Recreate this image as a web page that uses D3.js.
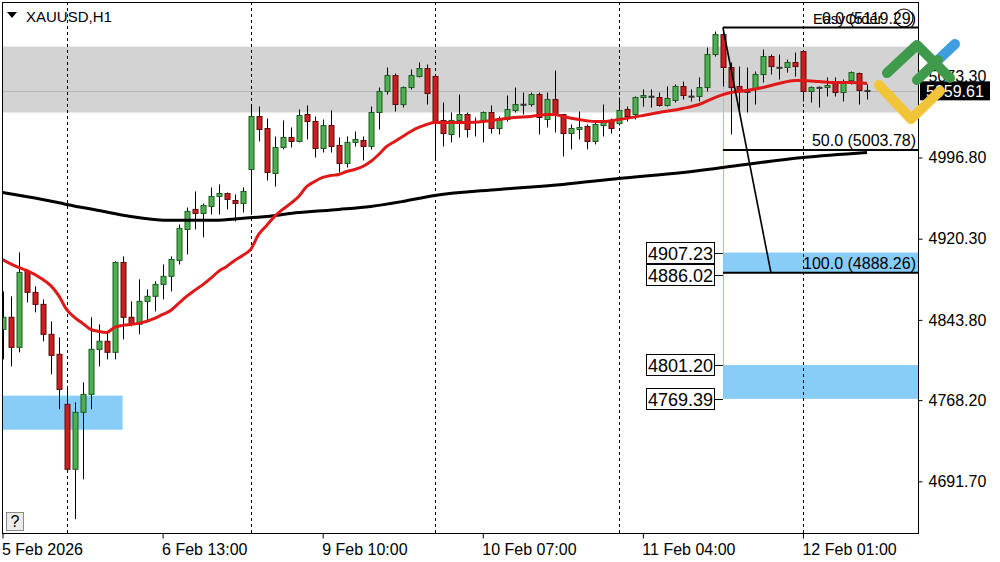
<!DOCTYPE html>
<html><head><meta charset="utf-8">
<script src="https://cdn.jsdelivr.net/npm/d3@7"></script>
<style>body{margin:0;background:#fff}svg{display:block;font-family:"Liberation Sans",Arial,sans-serif}</style>
</head><body><svg id="c" width="1000" height="562"></svg>
<script>
// ---- data (XAUUSD H1, bars 5 Feb 16:00 .. 12 Feb 09:00) ----
const openP=[4834.9,4846.2,4817.9,4889.5,4869.7,4858.4,4830.2,4811.3,4764.2,4703.0,4756.7,4773.6,4816.0,4823.6,4813.2,4897.9,4846.2,4839.6,4861.2,4866.0,4877.2,4884.8,4899.8,4929.0,4947.9,4944.1,4950.7,4960.1,4962.9,4956.3,4953.5,4985.5,5035.4,5024.1,4981.7,5006.2,5015.7,5011.9,5037.3,5030.7,5005.3,5026.9,5008.1,4991.2,5011.0,5012.8,5007.2,5039.2,5059.0,5074.0,5046.7,5062.7,5073.1,5080.6,5073.1,5031.7,5018.5,5031.7,5037.3,5030.7,5030.7,5039.2,5024.1,5032.6,5041.1,5046.3,5046.7,5056.1,5032.6,5051.4,5037.3,5019.4,5023.2,5026.0,5011.9,5026.9,5031.7,5028.8,5042.0,5037.3,5053.3,5054.5,5053.3,5045.8,5050.5,5063.7,5054.3,5054.3,5062.7,5093.8,5112.6,5081.6,5063.7,5058.5,5060.9,5075.0,5091.9,5081.8,5081.6,5086.3,5096.6,5059.0,5062.9,5062.7,5068.4,5058.0,5069.3,5075.9,5059.9];
const highP=[4870.6,4866.0,4907.4,4891.3,4875.4,4863.1,4842.4,4827.3,4781.2,4766.1,4785.0,4846.2,4839.6,4832.0,4898.9,4903.6,4861.2,4882.0,4872.5,4880.1,4896.0,4903.6,4933.7,4949.7,4964.8,4953.5,4968.6,4971.4,4963.8,4962.0,4968.6,5046.7,5044.8,5033.5,5016.6,5031.7,5025.1,5042.0,5045.8,5035.4,5032.6,5041.1,5015.7,5016.6,5021.3,5016.6,5044.8,5062.7,5081.6,5075.9,5063.7,5079.7,5086.3,5084.4,5075.0,5048.6,5039.2,5056.1,5039.2,5034.5,5040.1,5045.8,5035.4,5055.2,5062.7,5058.0,5058.0,5058.0,5058.0,5078.7,5037.8,5027.9,5040.1,5027.9,5029.8,5046.7,5033.5,5053.3,5044.8,5054.3,5060.9,5060.9,5058.0,5063.7,5065.6,5068.4,5060.9,5072.2,5100.4,5115.5,5119.3,5086.3,5082.5,5081.6,5077.8,5098.5,5093.8,5093.8,5089.1,5095.7,5096.6,5063.7,5063.7,5072.2,5072.2,5070.3,5077.8,5076.8,5065.6];
const lowP=[4806.6,4800.0,4813.2,4860.3,4850.9,4823.6,4792.5,4759.5,4701.1,4656.0,4693.6,4759.5,4800.0,4806.6,4806.6,4825.4,4837.7,4830.2,4841.4,4851.8,4863.1,4870.6,4896.0,4905.5,4929.0,4921.5,4943.1,4943.1,4947.9,4936.5,4945.0,4943.1,5011.9,4975.1,4969.5,5004.4,5006.2,5011.0,5013.8,4996.8,5001.5,5001.5,4982.7,4987.4,5007.2,4994.0,5004.4,5023.2,5056.1,5040.1,5043.9,5060.9,5072.2,5046.7,4994.9,5007.2,5011.0,5015.7,5015.7,5016.6,5011.0,5019.4,5018.5,5030.7,5039.2,5037.3,5044.8,5018.5,5025.1,5020.4,4997.8,5004.4,5013.8,5004.4,5009.1,5016.6,5019.4,5026.9,5030.7,5032.6,5044.8,5043.9,5044.8,5044.8,5048.6,5051.4,5049.6,5049.6,5059.0,5091.9,5063.7,5018.5,5039.2,5039.2,5046.7,5067.4,5075.0,5070.3,5076.8,5073.1,5049.6,5048.6,5043.9,5054.3,5054.3,5049.6,5065.6,5046.7,5051.4];
const closeP=[4846.2,4817.9,4888.5,4869.7,4858.4,4830.2,4810.4,4778.3,4703.0,4756.7,4773.6,4816.0,4823.6,4813.2,4897.9,4846.2,4839.6,4861.2,4866.0,4877.2,4884.8,4900.7,4930.0,4946.0,4944.1,4951.6,4960.1,4962.9,4957.3,4953.5,4964.8,5035.4,5023.2,4982.7,5006.2,5015.7,5011.9,5036.4,5030.7,5005.3,5026.9,5007.2,4991.2,5011.0,5013.8,5007.2,5039.2,5059.0,5074.0,5046.7,5062.7,5074.0,5080.6,5057.1,5029.8,5019.4,5031.7,5037.3,5023.2,5029.8,5039.2,5024.1,5033.5,5042.0,5046.7,5047.0,5056.1,5034.5,5051.4,5037.3,5019.4,5024.1,5025.1,5011.9,5027.9,5029.8,5024.1,5041.1,5035.4,5053.3,5055.2,5054.0,5045.8,5052.4,5063.7,5055.2,5054.6,5062.7,5093.8,5112.6,5081.6,5062.7,5059.0,5059.0,5075.0,5091.9,5082.5,5081.4,5086.3,5082.5,5059.0,5062.7,5062.5,5064.6,5058.0,5068.4,5076.8,5059.9,5059.61];

const redMaIdx=[0,2,3,5,6,7,8,9,10,11,12,13,14,15,17,19,20,21,22,23,24,25,26,27,28,29,30,31,32,33,34,35,36,37,38,39,40,41,42,43,44,45,46,47,48,49,50,51,52,53,54,56,58,60,62,64,66,68,69,70,72,74,75,77,80,82,85,87,89,90,91,93,95,97,99,100,102,104,106,108];
const redMaVal=[4900.7,4893.2,4890.4,4882.0,4876.3,4866.9,4853.7,4846.2,4840.5,4834.9,4833.0,4832.0,4836.7,4838.6,4840.5,4845.2,4848.9,4852.7,4859.3,4866.0,4871.6,4876.8,4882.9,4889.5,4894.2,4899.8,4904.5,4910.2,4924.3,4932.8,4941.3,4947.9,4953.5,4960.1,4969.5,4974.2,4978.0,4979.8,4980.8,4983.6,4985.5,4988.3,4993.0,4999.6,5007.2,5011.9,5016.6,5021.3,5025.1,5027.9,5029.8,5029.8,5029.8,5030.7,5032.6,5034.5,5035.4,5037.3,5037.3,5035.4,5032.6,5030.7,5030.7,5032.6,5036.4,5039.2,5043.0,5046.7,5053.3,5056.1,5058.0,5059.9,5062.7,5066.5,5069.3,5069.3,5068.4,5067.4,5067.4,5066.5];
const blackMaIdx=[0,5,8,12,16,21,26,29,33,37,42,46,50,54,62,70,77,85,90,100,108];
const blackMaVal=[4963.9,4957.3,4952.6,4946.9,4941.3,4937.6,4937.6,4938.9,4941.3,4945.0,4947.9,4950.7,4955.4,4961.0,4966.7,4971.4,4977.0,4982.7,4987.4,4996.8,5001.5];

const priceTicks=[5073.30,4996.80,4920.30,4843.80,4768.20,4691.70];
const timeTickIdx=[0,20,40,60,80,100];
const timeTickLabels=["5 Feb 2026","6 Feb 13:00","9 Feb 10:00","10 Feb 07:00","11 Feb 04:00","12 Feb 01:00"];
const daySepIdx=[8,31,54,77,100];

const grayBand=[5101.3,5039.2];
const bidPrice=5059.61;
const leftZone={from:0,to:15,top:4772.4,bottom:4740.3};
const rightZones=[{top:4907.23,bottom:4888.26,labels:[4907.23,4886.02]},{top:4801.20,bottom:4769.39,labels:[4801.20,4769.39]}];
const fibStart={idx:90,price:5119.29};
const fibEnd={idx:96,price:4888.26};
const fibLevels=[{lvl:"0.0",price:5119.29},{lvl:"50.0",price:5003.78},{lvl:"100.0",price:4888.26}];

// ---- layout ----
const L=2,R=918,T=2,B=533;
const svg=d3.select("#c");
const x=d3.scaleLinear().domain([0,108]).range([2.5,867]);
const y=d3.scaleLinear().domain([4691.7,5119.29]).range([481.3,27.5]);

svg.append("defs").append("clipPath").attr("id","pc").append("rect").attr("x",L).attr("y",T).attr("width",R-L).attr("height",B-T);
const g=svg.append("g").attr("clip-path","url(#pc)");

// gray band
g.append("rect").attr("x",L).attr("width",R-L).attr("y",y(grayBand[0])).attr("height",y(grayBand[1])-y(grayBand[0])).attr("fill","#d3d3d3");
// bid line
g.append("line").attr("x1",L).attr("x2",R).attr("y1",Math.round(y(bidPrice))+0.5).attr("y2",Math.round(y(bidPrice))+0.5).attr("stroke","#b4b4b4").attr("stroke-width",1);

// blue zones
const zc="#87cdf8";
g.append("rect").attr("x",L).attr("width",x(leftZone.to)-L).attr("y",y(leftZone.top)).attr("height",y(leftZone.bottom)-y(leftZone.top)).attr("fill",zc);
rightZones.forEach(z=>{
  g.append("rect").attr("x",x(fibStart.idx)).attr("width",R-x(fibStart.idx)).attr("y",y(z.top)).attr("height",y(z.bottom)-y(z.top)).attr("fill",zc);
});
g.append("line").attr("x1",Math.round(x(fibStart.idx))+0.5).attr("x2",Math.round(x(fibStart.idx))+0.5)
 .attr("y1",y(fibStart.price)).attr("y2",y(rightZones[1].bottom)).attr("stroke","#8cc8ee").attr("stroke-width",1);

// day separators
daySepIdx.forEach(i=>{
  const xx=Math.round(x(i))+0.5;
  g.append("line").attr("x1",xx).attr("x2",xx).attr("y1",T).attr("y2",B).attr("stroke","#000").attr("stroke-width",1).attr("stroke-dasharray","3,3");
});

// candles
const bars=d3.range(openP.length);
const cg=g.append("g");
bars.forEach(i=>{
  const cx=Math.round(x(i))+0.5;
  cg.append("line").attr("x1",cx).attr("x2",cx).attr("y1",y(highP[i])).attr("y2",y(lowP[i])).attr("stroke","#000").attr("stroke-width",1);
  const up=closeP[i]>=openP[i];
  const yt=y(Math.max(openP[i],closeP[i])), yb=y(Math.min(openP[i],closeP[i]));
  const h=Math.max(1,yb-yt);
  cg.append("rect").attr("x",cx-2.5).attr("width",5).attr("y",yt).attr("height",h)
    .attr("fill",up?"#4caf50":"#cc1e1e").attr("stroke",h<2?"#333":(up?"#1f5a22":"#5a0d0d")).attr("stroke-width",1);
});

// moving averages
const line=d3.line().x(d=>x(d[0])).y(d=>y(d[1])).curve(d3.curveMonotoneX);
g.append("path").datum(blackMaIdx.map((d,i)=>[d,blackMaVal[i]])).attr("d",line).attr("fill","none").attr("stroke","#000").attr("stroke-width",3);
g.append("path").datum(redMaIdx.map((d,i)=>[d,redMaVal[i]])).attr("d",line).attr("fill","none").attr("stroke","#e01818").attr("stroke-width",3);

// fibonacci
g.append("line").attr("x1",x(fibStart.idx)).attr("y1",y(fibStart.price)).attr("x2",x(fibEnd.idx)).attr("y2",y(fibEnd.price)).attr("stroke","#000").attr("stroke-width",1.6);
fibLevels.forEach(f=>{
  g.append("line").attr("x1",x(fibStart.idx)).attr("x2",R).attr("y1",y(f.price)).attr("y2",y(f.price)).attr("stroke","#000").attr("stroke-width",2);
  g.append("text").attr("x",916).attr("y",y(f.price)-4).attr("text-anchor","end").attr("font-size",16).attr("fill","#000")
   .text(f.lvl+" ("+f.price.toFixed(2)+")");
});
g.append("text").attr("x",813).attr("y",24).attr("font-size",14.5).attr("fill","#000").text("EasyOrder");
g.append("circle").attr("cx",904).attr("cy",18).attr("r",9).attr("fill","none").attr("stroke","#000").attr("stroke-width",1.2);

// zone price labels
rightZones.forEach(z=>{
  z.labels.forEach(p=>{
    const yy=y(p);
    svg.append("line").attr("x1",714).attr("x2",x(fibStart.idx)).attr("y1",Math.round(yy)+0.5).attr("y2",Math.round(yy)+0.5).attr("stroke","#000");
    svg.append("rect").attr("x",646.5).attr("y",Math.round(yy)-10.5).attr("width",68).attr("height",21).attr("fill","#fff").attr("stroke","#000");
    svg.append("text").attr("x",680.5).attr("y",Math.round(yy)+6.5).attr("text-anchor","middle").attr("font-size",18).text(p.toFixed(2));
  });
});

// frame
svg.append("rect").attr("x",L+0.5).attr("y",T+0.5).attr("width",R-L).attr("height",B-T).attr("fill","none").attr("stroke","#000");

// axes
const ya=svg.append("g").attr("transform",`translate(${R+0.5},0)`)
 .call(d3.axisRight(y).tickValues(priceTicks).tickSize(4).tickPadding(6).tickFormat(d3.format(".2f")));
ya.select(".domain").remove();
ya.selectAll("text").attr("font-size",16).attr("font-family","Liberation Sans, Arial, sans-serif").attr("fill","#000");
const xa=svg.append("g").attr("transform",`translate(0,${B+0.5})`)
 .call(d3.axisBottom(x).tickValues(timeTickIdx).tickSize(5).tickPadding(5).tickFormat((d,i)=>timeTickLabels[i]));
xa.select(".domain").remove();
xa.selectAll("text").attr("font-size",16).attr("text-anchor","start").attr("dx",-1).attr("font-family","Liberation Sans, Arial, sans-serif").attr("fill","#000");

// current price box
const by=y(bidPrice);
svg.append("rect").attr("x",920).attr("y",by-9.5).attr("width",70).attr("height",19).attr("fill","#000");
svg.append("text").attr("x",926).attr("y",by+6).attr("font-size",16).attr("fill","#fff").text(bidPrice.toFixed(2));

// title
svg.append("path").attr("d","M7,12 L17,12 L12,18 Z").attr("fill","#000");
svg.append("text").attr("x",26).attr("y",22).attr("font-size",15).attr("fill","#000").text("XAUUSD,H1");

// help box
svg.append("rect").attr("x",6.5).attr("y",512.5).attr("width",17).attr("height",18).attr("fill","#ececec").attr("stroke","#8a8a8a");
svg.append("text").attr("x",15).attr("y",527).attr("text-anchor","middle").attr("font-size",16).text("?");

// logo
const lg=svg.append("g").attr("fill","none").attr("stroke-linecap","round").attr("stroke-linejoin","round").attr("stroke-width",10);
lg.append("path").attr("d","M879,85 L911,119 L940,91").attr("stroke","#f2c437");
lg.append("path").attr("d","M937,61 L955,44").attr("stroke","#3f9ee0");
lg.append("path").attr("d","M887,73 L917,45 L950,78").attr("stroke","#3f9a4c");
lg.append("path").attr("d","M917,80 L938,60").attr("stroke","#3f9a4c");
</script></body></html>
